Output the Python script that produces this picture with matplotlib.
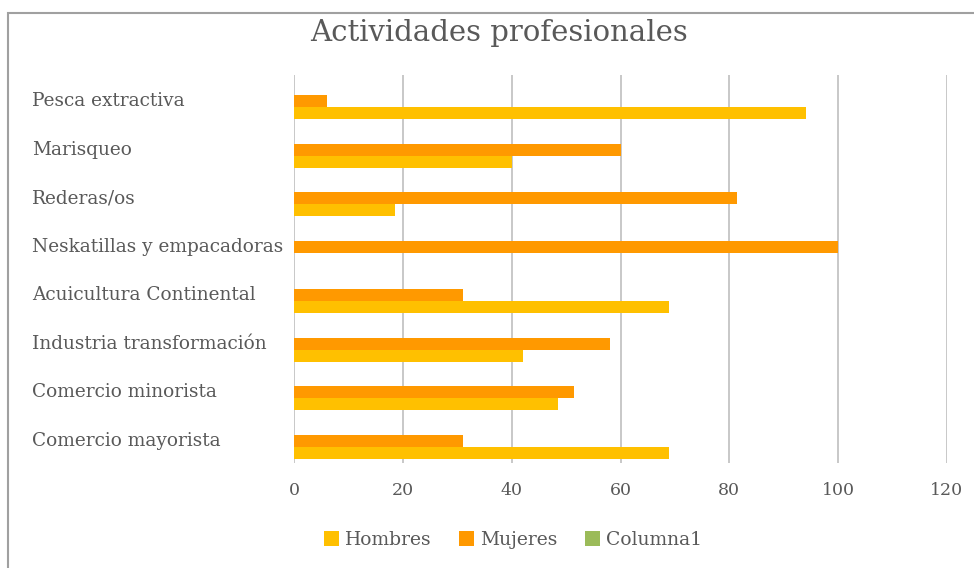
import matplotlib
matplotlib.use("Agg")
import matplotlib.pyplot as plt
import numpy as np
from matplotlib.patches import Rectangle

# Data
categorias = ["Pesca extractiva", "Marisqueo", "Rederas/os",
              "Neskatillas y empacadoras", "Acuicultura Continental",
              "Industria transformación", "Comercio minorista",
              "Comercio mayorista"]
hombres = [94, 40, 18.5, 0, 69, 42, 48.5, 69]
mujeres = [6, 60, 81.5, 100, 31, 58, 51.5, 31]
columna1 = [0, 0, 0, 0, 0, 0, 0, 0]
xticks = [0, 20, 40, 60, 80, 100, 120]

c_hombres = "#FFC000"
c_mujeres = "#FF9900"
c_col1 = "#9BBB59"
txt = "#595959"

plt.rcParams['font.family'] = ['DejaVu Serif']

fig = plt.figure(figsize=(9.74, 5.68), dpi=100)
ax = fig.add_axes([294/974, 1 - 463/568, (947 - 294)/974, (463 - 75)/568])

y = np.arange(len(categorias))
h = 0.25
ax.barh(y + 0.29, hombres, height=h, color=c_hombres, label="Hombres", zorder=3)
ax.barh(y + 0.04, mujeres, height=h, color=c_mujeres, label="Mujeres", zorder=3)
ax.barh(y - 0.21, columna1, height=h, color=c_col1, label="Columna1", zorder=3)

ax.set_xlim(0, 120)
ax.set_ylim(len(categorias) - 0.5, -0.5)
ax.set_xticks(xticks)
ax.set_xticklabels([str(v) for v in xticks], color=txt, fontsize=12.5)
ax.grid(axis="x", color="#c4c4c4", linewidth=1.3, zorder=0)
ax.tick_params(axis="x", length=0, pad=14)
ax.set_yticks(y)
ax.set_yticklabels(categorias, color=txt, fontsize=13.3, ha="left")
ax.tick_params(axis="y", length=0, pad=(294 - 32) * 0.72)
for s in ax.spines.values():
    s.set_visible(False)

fig.text(0.512, 1 - 33/568, "Actividades profesionales", ha="center", va="center",
         fontsize=21, color=txt)

leg = ax.legend(loc="center", bbox_to_anchor=(513/974, 1 - 540/568),
                bbox_transform=fig.transFigure, ncol=3, frameon=False,
                fontsize=13.5, handlelength=0.8, handleheight=0.8,
                handletextpad=0.3, columnspacing=1.5)
for t in leg.get_texts():
    t.set_color(txt)

# outer chart frame (right/bottom edges cut off in the original)
fig.patches.append(Rectangle((8/974, -0.1), 1.2, 1 - 13/568 + 0.1,
                             transform=fig.transFigure, fill=False,
                             edgecolor="#a0a0a0", linewidth=1.5))

fig.savefig("out.png", dpi=100)
